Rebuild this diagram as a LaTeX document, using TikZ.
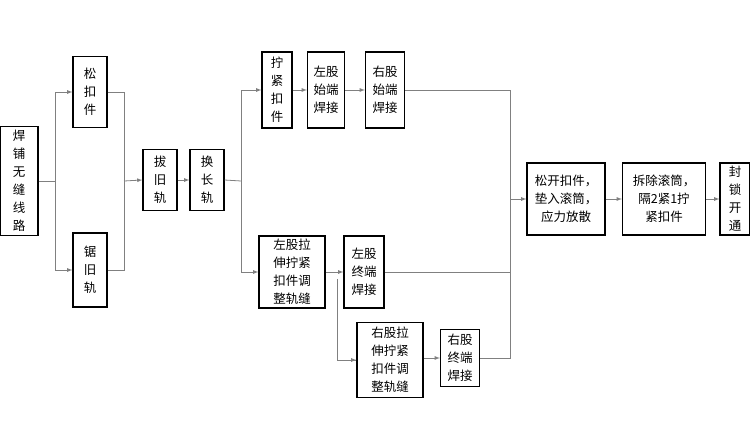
\documentclass[tikz,border=0pt]{standalone}
\usepackage{fontspec}
\setmainfont{Noto Sans CJK SC}
\tikzset{
  box/.style={draw, line width=1.2pt, align=center, inner sep=0pt, font=\fontsize{12.5}{18}\selectfont},
  link/.style={draw=gray, line width=0.8pt},
  arr/.style={link, -latex}
}
\begin{document}
\begin{tikzpicture}[x=1pt, y=-1pt]
    \useasboundingbox (0,0) rectangle (750,422);
    % Kasten
    \node[box, minimum width=38pt, minimum height=109pt] (weld) at (19,181) {焊\\铺\\无\\缝\\线\\路};
    \node[box, minimum width=34pt, minimum height=71pt] (loosen) at (90,92) {松\\扣\\件};
    \node[box, minimum width=34pt, minimum height=74pt] (saw) at (90,270) {锯\\旧\\轨};
    \node[box, minimum width=34pt, minimum height=61pt] (pull) at (160,180) {拔\\旧\\轨};
    \node[box, minimum width=34pt, minimum height=61pt] (swap) at (207,180) {换\\长\\轨};
    \node[box, minimum width=30pt, minimum height=76pt] (tight) at (277,90) {拧\\紧\\扣\\件};
    \node[box, minimum width=37pt, minimum height=76pt] (lstart) at (326,90) {左股\\始端\\焊接};
    \node[box, minimum width=39pt, minimum height=76pt] (rstart) at (385,90) {右股\\始端\\焊接};
    \node[box, minimum width=66pt, minimum height=72pt] (lstretch) at (292,272) {左股拉\\伸拧紧\\扣件调\\整轨缝};
    \node[box, minimum width=40pt, minimum height=72pt] (lend) at (364,272) {左股\\终端\\焊接};
    \node[box, minimum width=66pt, minimum height=75pt] (rstretch) at (390,360) {右股拉\\伸拧紧\\扣件调\\整轨缝};
    \node[box, minimum width=39pt, minimum height=57pt] (rend) at (460,358) {右股\\终端\\焊接};
    \node[box, minimum width=78pt, minimum height=72pt] (release) at (566,199) {松开扣件，\\垫入滚筒，\\应力放散};
    \node[box, minimum width=83pt, minimum height=72pt] (remove) at (664,199) {拆除滚筒，\\隔2紧1拧\\紧扣件};
    \node[box, minimum width=30pt, minimum height=72pt] (open) at (735,199) {封\\锁\\开\\通};

    % Verzweigungen
    \coordinate (s1) at (55,181);
    \coordinate (s2) at (124,181);
    \coordinate (s3) at (241,181);
    \coordinate (s4) at (510,199);
    \coordinate (s5) at (337,279);
    \draw[link] (weld.east) -- (s1);
    \draw[arr] (s1) |- (loosen.west);
    \draw[arr] (s1) |- (saw.west);
    \draw[link] (loosen.east) -| (s2);
    \draw[link] (saw.east) -| (s2);
    \draw[arr] (s2) -- (pull.west);
    \draw[arr] (pull) -- (swap);
    \draw[link] (swap.east) -- (s3);
    \draw[arr] (s3) |- (tight.west);
    \draw[arr] (s3) |- (lstretch.west);
    \draw[arr] (tight) -- (lstart);
    \draw[arr] (lstart) -- (rstart);
    \draw[arr] (lstretch.east |- lend) -- (lend);
    \draw[link] (s5) |- (rstretch.west);
    \draw[arr] ([xshift=-6pt]rstretch.west) -- (rstretch.west);
    \draw[arr] (rstretch.east |- rend) -- (rend);
    \draw[link] (rstart.east) -| (s4);
    \draw[link] (lend.east) -| (s4);
    \draw[link] (rend.east) -| (s4);
    \draw[arr] (s4) -- (release.west);
    \draw[arr] (release) -- (remove);
    \draw[arr] (remove) -- (open);
\end{tikzpicture}
\end{document}
